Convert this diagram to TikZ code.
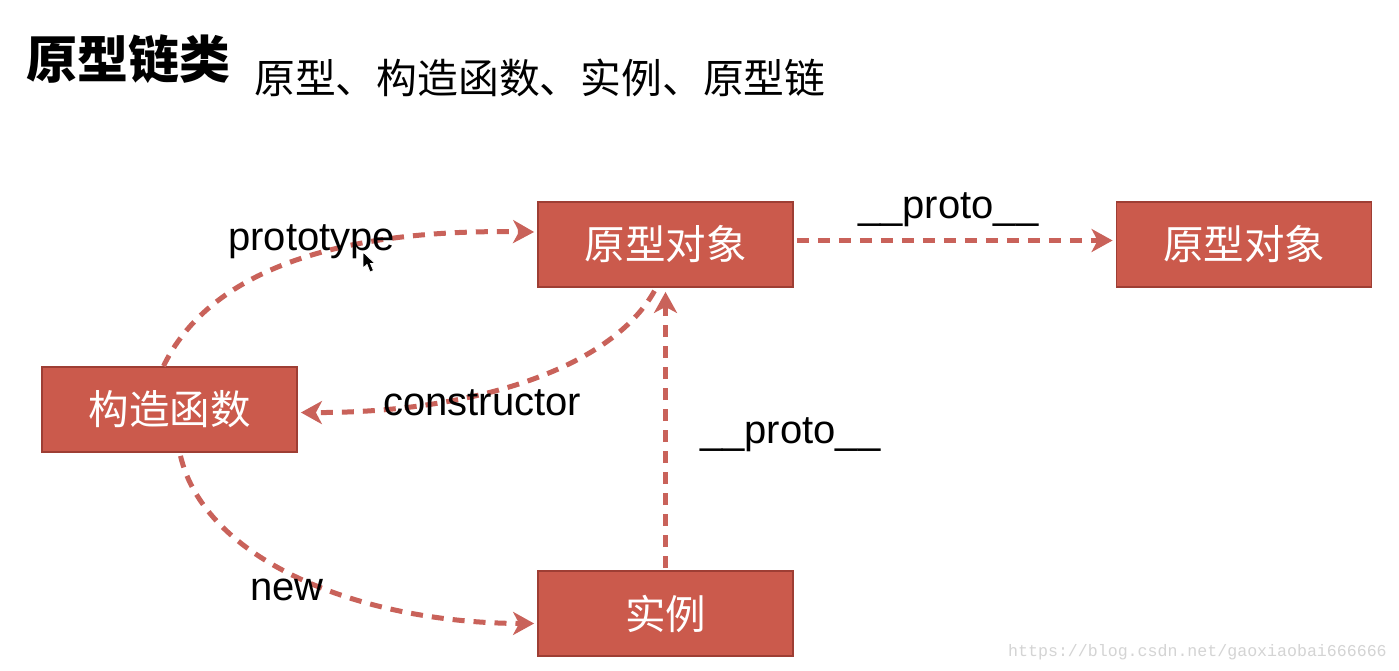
\documentclass[tikz,border=0pt]{standalone}
\usepackage{fontspec}
\setmainfont{Liberation Sans}
\newfontfamily\cjk{Noto Sans CJK SC}
\newfontfamily\wmfont{Liberation Mono}
\usetikzlibrary{arrows.meta,calc}
\definecolor{boxfill}{RGB}{203,90,76}
\definecolor{boxline}{RGB}{158,62,52}
\definecolor{linkc}{RGB}{201,98,90}
\definecolor{wmgray}{RGB}{212,212,212}
\begin{document}
\begin{tikzpicture}[x=1pt,y=-1pt,
  box/.style={draw=boxline, line width=1.8pt, fill=boxfill, minimum width=255pt,
    minimum height=85pt, inner sep=0pt, text=white, font=\cjk\fontsize{40.5}{40.5}\selectfont},
  link/.style={draw=linkc, line width=5pt, dash pattern=on 12pt off 9pt,
    -{Stealth[length=21pt,width=23pt,inset=6pt]}},
  lbl/.style={font=\fontsize{40}{40}\selectfont, text=black, inner sep=0pt, anchor=base west}]
\fill[white] (0,0) rectangle (1399,670);
\useasboundingbox (0,0) rectangle (1399,670);

% titles
\node[anchor=west, font=\cjk\bfseries\fontsize{51}{51}\selectfont, inner sep=0pt] (title) at (26,59) {原型链类};
\node[anchor=west, font=\cjk\fontsize{40.8}{40.8}\selectfont, inner sep=0pt] (sub) at (254,78) {原型、构造函数、实例、原型链};

% boxes
\node[box] (po1) at (665.5,244.5) {原型对象};
\node[box] (po2) at (1244,244.5) {原型对象};
\node[box] (cf) at (169.5,409.5) {构造函数};
\node[box] (sl) at (665.5,613.5) {实例};

% connectors
\draw[link] ($(cf.north)+(-6,0)$) .. controls (200,290) and (300,228) .. ($(po1.west)+(-3,-12.5)$);
\draw[link] ($(po1.east)+(3,-4)$) -- ($(po2.west)+(-3,-4)$);
\draw[link] ($(po1.south)+(-11,3)$) .. controls (610,370) and (470,413) .. ($(cf.east)+(3,3)$);
\draw[link] ($(sl.north)+(0,-2)$) -- ($(po1.south)+(0,4)$);
\draw[link] ($(cf.south)+(11,3)$) .. controls (205,560) and (360,623) .. ($(sl.west)+(-3,10)$);

% labels
\node[lbl] (lproto) at (228,250) {prototype};
\node[lbl] (lpt1) at (858,218) {\_\_proto\_\_};
\node[lbl] (lcons) at (383,415) {constructor};
\node[lbl] (lpt2) at (700,443) {\_\_proto\_\_};
\node[lbl] (lnew) at (250,600) {new};

% mouse cursor
\filldraw[fill=black, draw=white, line width=0.8pt]
  (363,252) -- (363,268) -- (367,264.5) -- (370,272) -- (373.5,270.5) -- (370.5,263.5) -- (375,263.5) -- cycle;

% watermark
\node[anchor=base west, font=\wmfont\fontsize{16.6}{16.6}\selectfont, text=wmgray, inner sep=0pt] (wm) at (1008,656) {https://blog.csdn.net/gaoxiaobai666666};
\end{tikzpicture}
\end{document}
